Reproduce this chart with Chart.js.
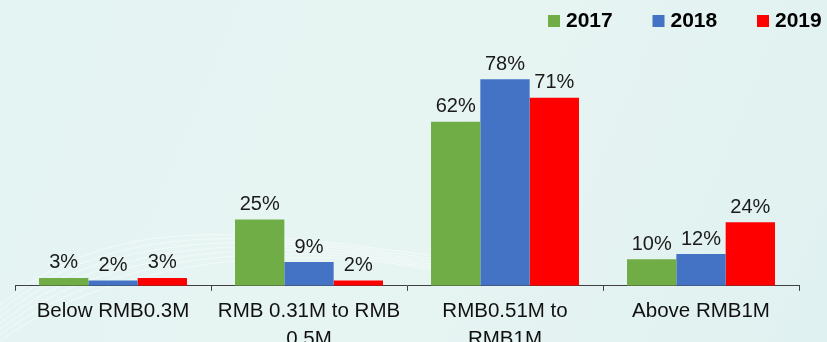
<!DOCTYPE html>
<html>
<head>
<meta charset="utf-8">
<script src="https://cdn.jsdelivr.net/npm/chart.js@4/dist/chart.umd.min.js"></script>
<style>
  html, body { margin: 0; padding: 0; background: #e3f3f2; }
  #wrap { width: 827px; height: 342px; position: relative; }
</style>
</head>
<body>
<div id="wrap"><canvas id="incomeChart" width="827" height="342"></canvas></div>
<script>
const categories = [
  'Below RMB0.3M',
  ['RMB 0.31M to RMB', '0.5M'],
  ['RMB0.51M to', 'RMB1M'],
  'Above RMB1M'
];
const years = ['2017', '2018', '2019'];
const values2017 = [3, 25, 62, 10];
const values2018 = [2, 9, 78, 12];
const values2019 = [3, 2, 71, 24];

const colors = ['#70ad47', '#4472c4', '#ff0000'];
const FONT = 'Arial, "Liberation Sans", sans-serif';

// pale teal background with a few faint swirls at the lower left
const backgroundPlugin = {
  id: 'bg',
  beforeDraw(chart) {
    const ctx = chart.ctx;
    const g = ctx.createLinearGradient(0, 0, chart.width, chart.height);
    g.addColorStop(0, '#e4f4f3');
    g.addColorStop(0.5, '#e7f5f2');
    g.addColorStop(1, '#e0f1f1');
    ctx.save();
    ctx.fillStyle = g;
    ctx.fillRect(0, 0, chart.width, chart.height);
    ctx.strokeStyle = 'rgba(255,255,255,0.5)';
    ctx.lineWidth = 1;
    for (let k = 0; k < 7; k++) {
      ctx.beginPath();
      ctx.moveTo(0, 305 + k * 6);
      ctx.bezierCurveTo(120, 205 + k * 8, 260 + k * 12, 235, 430 + k * 10, 255 + k * 5);
      ctx.stroke();
    }
    ctx.restore();
  }
};

// legend drawn in the top right corner
const topLegend = {
  id: 'topLegend',
  afterDraw(chart) {
    const ctx = chart.ctx;
    ctx.save();
    ctx.font = 'bold 21px ' + FONT;
    ctx.textBaseline = 'middle';
    chart.data.datasets.forEach((ds, i) => {
      const x = 548 + i * 104.5;
      ctx.fillStyle = ds.backgroundColor;
      ctx.fillRect(x, 15, 12, 12);
      ctx.fillStyle = '#000';
      ctx.fillText(ds.label, x + 18, 21);
    });
    ctx.restore();
  }
};

// percentage labels above each bar
const valueLabels = {
  id: 'valueLabels',
  afterDatasetsDraw(chart) {
    const ctx = chart.ctx;
    ctx.save();
    ctx.font = '20px ' + FONT;
    ctx.fillStyle = '#1a1a1a';
    ctx.textAlign = 'center';
    ctx.textBaseline = 'bottom';
    chart.data.datasets.forEach((ds, i) => {
      chart.getDatasetMeta(i).data.forEach((bar, j) => {
        ctx.fillText(ds.data[j] + '%', bar.x, bar.y - 5);
      });
    });
    ctx.restore();
  }
};

new Chart(document.getElementById('incomeChart').getContext('2d'), {
  type: 'bar',
  data: {
    labels: categories,
    datasets: [
      { label: years[0], data: values2017, backgroundColor: colors[0] },
      { label: years[1], data: values2018, backgroundColor: colors[1] },
      { label: years[2], data: values2019, backgroundColor: colors[2] }
    ]
  },
  options: {
    responsive: false,
    animation: false,
    layout: { padding: { left: 15, right: 28, top: 21, bottom: -17 } },
    datasets: {
      bar: { categoryPercentage: 0.755, barPercentage: 1 }
    },
    plugins: {
      legend: { display: false },
      tooltip: { enabled: false }
    },
    scales: {
      x: {
        grid: {
          offset: true,
          drawOnChartArea: false,
          drawTicks: true,
          tickLength: 5,
          color: '#404040'
        },
        border: { color: '#404040', width: 1 },
        ticks: {
          color: '#111',
          padding: 6,
          maxRotation: 0,
          font: { family: FONT, size: 20.5, lineHeight: 1.37 }
        }
      },
      y: {
        display: false,
        min: 0,
        max: 100
      }
    }
  },
  plugins: [backgroundPlugin, valueLabels, topLegend]
});
</script>
</body>
</html>
